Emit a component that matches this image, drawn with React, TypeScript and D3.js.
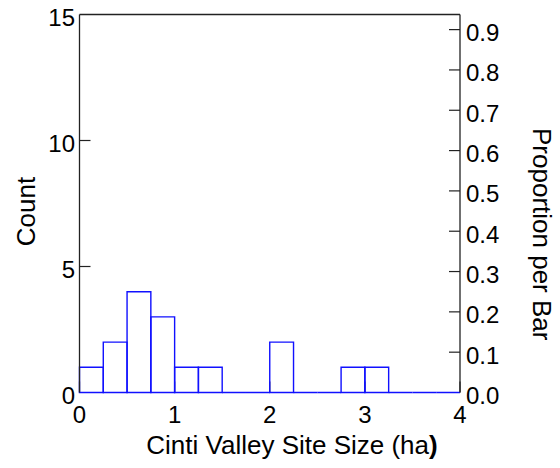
import React from "react";
import * as d3 from "d3";

// Histogram of site sizes (ha), bin width 0.25
const binStarts = [0, 0.25, 0.5, 0.75, 1, 1.25, 1.5, 1.75, 2, 2.25, 2.5, 2.75, 3, 3.25, 3.5, 3.75];
const binCounts = [1, 2, 4, 3, 1, 1, 0, 0, 2, 0, 0, 1, 1, 0, 0, 0];
const binWidth = 0.25;
const xTicks = [0, 1, 2, 3, 4];
const countTicks = [0, 5, 10, 15];
const proportionTicks = [0, 0.1, 0.2, 0.3, 0.4, 0.5, 0.6, 0.7, 0.8, 0.9];

const W = 560;
const H = 468;
const left = 79.5;
const right = 460;
const top = 14.5;
const bottom = 392.5;
const font = "'Liberation Sans', Arial, Helvetica, sans-serif";
const tickFont = 24;
const titleFont = 26;

export default function App() {
  const total = d3.sum(binCounts);
  const x = d3.scaleLinear().domain([0, 4]).range([left, right]);
  const y = d3.scaleLinear().domain([0, 15]).range([bottom, top]);
  const yp = d3.scaleLinear().domain([0, 15 / total]).range([bottom, top]);
  const tick = 11;
  const frame = "#222";

  return (
    <svg width={W} height={H} style={{ position: "absolute", left: 0, top: 0, background: "#fff" }}>
      {/* bottom ticks (drawn under the bars) */}
      {xTicks.map((t) => (
        <line key={"xt" + t} x1={x(t)} x2={x(t)} y1={bottom} y2={bottom - tick} stroke={frame} strokeWidth={1.2} />
      ))}
      {/* bars */}
      {binStarts.map((s, i) => {
        const x0 = x(s);
        const x1 = x(s + binWidth);
        const yTop = y(binCounts[i]);
        return (
          <path
            key={"b" + i}
            d={`M${x0},${bottom}V${yTop}H${x1}V${bottom}Z`}
            fill="none"
            stroke="#1010ff"
            strokeWidth={1.4}
          />
        );
      })}
      {/* frame */}
      <line x1={left} x2={left} y1={top} y2={bottom} stroke={frame} strokeWidth={1.3} />
      <line x1={right} x2={right} y1={top} y2={bottom} stroke={frame} strokeWidth={1.3} />
      <line x1={left} x2={right} y1={top} y2={top} stroke={frame} strokeWidth={1.3} />
      {/* left axis */}
      {countTicks.map((t) => (
        <g key={"yl" + t}>
          {t > 0 && t < 15 && (
            <line x1={left} x2={left + tick} y1={y(t)} y2={y(t)} stroke={frame} strokeWidth={1.2} />
          )}
          <text x={left - 4.5} y={y(t) + 11} textAnchor="end" fontFamily={font} fontSize={tickFont} fill="#000">
            {t}
          </text>
        </g>
      ))}
      {/* right axis */}
      {proportionTicks.map((t) => (
        <g key={"yr" + t}>
          {t > 0 && (
            <line x1={right - tick} x2={right} y1={yp(t)} y2={yp(t)} stroke={frame} strokeWidth={1.2} />
          )}
          <text x={right + 6} y={yp(t) + 11.5} textAnchor="start" fontFamily={font} fontSize={tickFont} fill="#000">
            {t.toFixed(1)}
          </text>
        </g>
      ))}
      {/* bottom tick labels */}
      {xTicks.map((t) => (
        <text key={"xl" + t} x={x(t)} y={bottom + 30.5} textAnchor="middle" fontFamily={font} fontSize={tickFont} fill="#000">
          {t}
        </text>
      ))}
      {/* axis titles */}
      <text x={292} y={454} textAnchor="middle" fontFamily={font} fontSize={titleFont} fill="#000">
        Cinti Valley Site Size (ha<tspan fontWeight="bold">)</tspan>
      </text>
      <text
        transform={`translate(35,211.5) rotate(-90)`}
        textAnchor="middle"
        fontFamily={font}
        fontSize={titleFont}
        fill="#000"
      >
        Count
      </text>
      <text
        transform={`translate(533,128) rotate(90)`}
        textAnchor="start"
        fontFamily={font}
        fontSize={titleFont}
        fill="#000"
      >
        Proportion per Bar
      </text>
    </svg>
  );
}
